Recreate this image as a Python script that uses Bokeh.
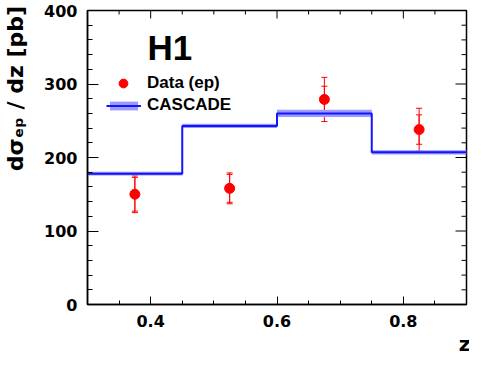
import math
from bokeh.plotting import figure
from bokeh.models import (ColumnDataSource, Whisker, TeeHead, FixedTicker,
                          Label, Legend, LegendItem, Range1d, Title)
from bokeh.embed import file_html
from bokeh.resources import INLINE

# ---- data ----
bin_edges = [0.3, 0.45, 0.6, 0.75, 0.9]
cascade = [178, 243, 260, 207]
cascade_err = [2.5, 3, 5, 3]
z_points = [0.375, 0.525, 0.675, 0.825]
data_vals = [150, 158, 279, 238]
stat_err = [23, 19, 18, 20]
tot_err = [25, 21, 30, 29]
x_ticks = [0.4, 0.6, 0.8]
x_minor = [0.35, 0.45, 0.5, 0.55, 0.65, 0.7, 0.75, 0.85]
y_ticks = [0, 100, 200, 300, 400]
y_minor = [v for v in range(20, 400, 20) if v % 100 != 0]
x_lo, x_hi = 0.3, 0.9
y_lo, y_hi = 0, 400

FONT = "DejaVu Sans"
HFONT = "Liberation Sans"

p = figure(width=469, height=355, output_backend="svg", toolbar_location=None,
           x_range=Range1d(x_lo, x_hi), y_range=Range1d(y_lo, y_hi),
           min_border_left=87, min_border_right=3, min_border_top=10, min_border_bottom=51)
p.background_fill_color = "white"
p.border_fill_color = "white"
p.grid.visible = False
p.outline_line_color = "black"
p.outline_line_width = 1.5

# band and histogram
band_src = ColumnDataSource(dict(
    left=bin_edges[:-1], right=bin_edges[1:],
    bottom=[c - e for c, e in zip(cascade, cascade_err)],
    top=[c + e for c, e in zip(cascade, cascade_err)]))
band = p.quad(left="left", right="right", bottom="bottom", top="top", source=band_src,
              fill_color="#9a9aff", fill_alpha=1.0, line_color=None)
step_y = cascade + [cascade[-1]]
line = p.step(x=bin_edges, y=step_y, mode="after", line_color="#1414ff", line_width=2)

# data points with errors
pt_src = ColumnDataSource(dict(
    x=z_points, y=data_vals,
    tup=[v + e for v, e in zip(data_vals, tot_err)],
    tlo=[v - e for v, e in zip(data_vals, tot_err)],
    sup=[v + e for v, e in zip(data_vals, stat_err)],
    slo=[v - e for v, e in zip(data_vals, stat_err)]))
for up, lo in (("tup", "tlo"), ("sup", "slo")):
    w = Whisker(base="x", upper=up, lower=lo, source=pt_src, dimension="height",
                line_color="red", line_width=1,
                upper_head=TeeHead(size=6, line_color="red", line_width=1),
                lower_head=TeeHead(size=6, line_color="red", line_width=1))
    p.add_layout(w)
pts = p.scatter(x="x", y="y", source=pt_src, size=10, fill_color="red", line_color="red")

# axes styling
def style_axis(ax, major, minor):
    ax.axis_line_color = "black"
    ax.axis_line_width = 1.5
    ax.major_tick_in = major
    ax.major_tick_out = 0
    ax.minor_tick_in = minor
    ax.minor_tick_out = 0
    ax.major_tick_line_color = "black"
    ax.minor_tick_line_color = "black"
    ax.major_label_text_font = FONT
    ax.major_label_text_font_style = "bold"
    ax.major_label_text_font_size = "16px"
    ax.major_label_text_color = "black"
    ax.major_label_standoff = 10

p.xaxis.ticker = FixedTicker(ticks=x_ticks, minor_ticks=x_minor)
p.yaxis.ticker = FixedTicker(ticks=y_ticks, minor_ticks=y_minor)
style_axis(p.xaxis[0], 8, 4)
style_axis(p.yaxis[0], 11, 5)
p.xaxis.major_label_overrides = {t: f"{t:.1f}" for t in x_ticks}

# mirrored ticks on top and right edges
p.ray(x=x_ticks, y=[y_hi] * len(x_ticks), length=8, length_units="screen",
      angle=-math.pi / 2, line_color="black", line_width=1)
p.ray(x=x_minor, y=[y_hi] * len(x_minor), length=4, length_units="screen",
      angle=-math.pi / 2, line_color="black", line_width=1)
p.ray(x=[x_hi] * len(y_ticks), y=y_ticks, length=11, length_units="screen",
      angle=math.pi, line_color="black", line_width=1)
p.ray(x=[x_hi] * len(y_minor), y=y_minor, length=5, length_units="screen",
      angle=math.pi, line_color="black", line_width=1)

# y axis title (leading no-break spaces push the visible text toward the top)
yax = p.yaxis[0]
yax.axis_label = "\u00a0" * 18 + "dσₑₚ / dz [pb]"
yax.axis_label_standoff = 13
yax.axis_label_text_font = FONT
yax.axis_label_text_font_style = "bold"
yax.axis_label_text_font_size = "22px"
yax.axis_label_text_color = "black"

# x axis title
p.add_layout(Title(text="z", align="right", offset=-4, standoff=0,
                   text_font=FONT, text_font_style="bold", text_font_size="20px",
                   text_color="black"), "below")

# H1 label
p.add_layout(Label(x=0.395, y=349, text="H1", text_align="left", text_baseline="alphabetic",
                   text_font=HFONT, text_font_style="bold", text_font_size="35px",
                   text_color="black"))

# legends
common = dict(padding=0, margin=0, spacing=0, label_height=22,
              label_text_font=HFONT, label_text_font_style="bold",
              label_text_font_size="17px", label_text_color="black",
              border_line_color=None, background_fill_alpha=0)
leg1 = Legend(items=[LegendItem(label="Data (ep)", renderers=[pts])],
              location=(14, 210), glyph_width=44, glyph_height=22, label_standoff=2, **common)
leg2 = Legend(items=[LegendItem(label="CASCADE", renderers=[band, line])],
              location=(19, 188), glyph_width=35, glyph_height=11, label_standoff=6, **common)
p.add_layout(leg1)
p.add_layout(leg2)

open("out.html", "w").write(file_html(p, INLINE))
